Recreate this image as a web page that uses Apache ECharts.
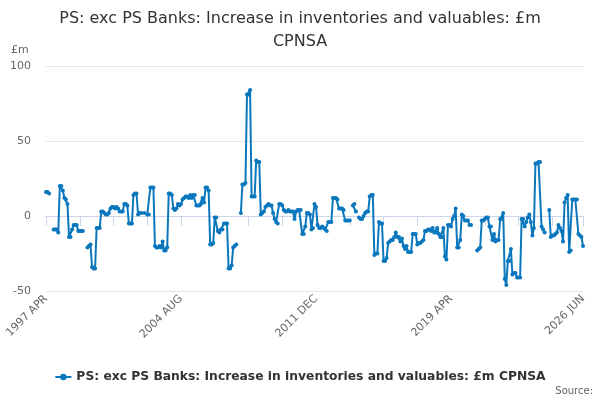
<!DOCTYPE html>
<html><head><meta charset="utf-8">
<script src="https://cdn.jsdelivr.net/npm/echarts@6/dist/echarts.min.js"></script>
<style>html,body{margin:0;padding:0;background:#fff}#c{width:600px;height:400px}</style>
</head><body><div id="c"></div>
<script>
const chartTitle = "PS: exc PS Banks: Increase in inventories and valuables: £m\nCPNSA";
const seriesName = "PS: exc PS Banks: Increase in inventories and valuables: £m CPNSA";
const startYear = 1997, startMonth = 3; // APR
const monthNames = ["JAN","FEB","MAR","APR","MAY","JUN","JUL","AUG","SEP","OCT","NOV","DEC"];
const yTicks = [-50, 0, 50, 100];
const values = [
 16, 16, 15, null, null, -9, -9, -9, -11, 20,
 20, 17, 12, 11, 8, -14, -14, -9, -6, -6,
 -6, -10, -10, -10, -10, null, null, -21, -20, -19,
 -34, -35, -35, -8, -8, -8, 3, 3, 2, 1,
 1, 2, 5, 6, 6, 5, 6, 5, 3, 3,
 3, 8, 8, 7, -5, -5, -5, 14, 15, 15,
 1, 2, 2, null, 2, null, 1, 1, 19, 19,
 19, -20, -21, -21, -20, -21, -17, -23, -23, -21,
 15, 15, 14, 5, 4, 5, 8, 7, 8, 11,
 12, 13, 13, 12, 14, 12, 14, 14, 7, 7,
 7, 8, 12, 9, 19, 19, 17, -19, -19, -18,
 -1, -1, -10, -11, -9, -9, -5, -5, -5, -35,
 -35, -33, -21, -20, -19, null, null, 2, 21, 21,
 22, 81, 81, 84, 13, 13, 13, 37, 36, 36,
 1, 2, 3, 6, 7, 8, 7, 7, 2, -2,
 -4, -5, 8, 8, 7, 4, 3, 3, 4, 3,
 3, 3, -2, 3, 4, 4, 4, -12, -12, -7,
 2, 2, 1, -9, -8, 8, 6, -6, -8, -8,
 -7, -8, -9, -10, -4, -4, -4, 12, 12, 12,
 11, 5, 5, 5, 4, -3, -3, -3, -3, null,
 7, 8, 3, null, -1, -2, -2, 0, 2, 3,
 3, 13, 14, 14, -26, -25, -25, -4, -5, -5,
 -30, -30, -28, -18, -17, -16, -16, -14, -11, -14,
 -14, -17, -15, -20, -22, -20, -24, -24, -24, -12,
 -12, -12, -19, -18, -18, -17, -16, -10, -10, -9,
 -9, -10, -8, -11, -11, -8, -12, -14, -14, -8,
 -27, -29, -6, -6, -7, -2, 0, 5, -21, -21,
 -16, 1, 0, -3, -3, -3, -6, -6, null, null,
 null, -23, -22, -21, -3, -3, -2, -1, -1, -7,
 -7, -16, -12, -17, -16, -16, -2, -2, 2, -42,
 -46, -30, -30, -22, -39, -38, -38, -41, -41, -41,
 -2, -2, -7, -4, -1, 1, -4, -13, -8, 35,
 35, 36, 36, -7, -9, -11, null, null, 4, -14,
 -13, -13, -12, -11, -6, -8, -10, -17, 9, 12,
 14, -24, -23, 11, 11, 11, 11, -12, -13, -14,
 -20
];
const categories = values.map((v, i) => {
  const m = startMonth + i;
  return (startYear + Math.floor(m / 12)) + " " + monthNames[m % 12];
});
const lastIdx = categories.length - 1;

const chart = echarts.init(document.getElementById('c'));
chart.setOption({
  animation: false,
  textStyle: {fontFamily: 'DejaVu Sans'},
  title: {
    text: chartTitle, left: 'center', top: 2,
    textStyle: {fontSize: 16, fontWeight: 'normal', color: '#333', lineHeight: 23, fontFamily: 'DejaVu Sans'}
  },
  graphic: [
    {type: 'text', left: 11, top: 45, style: {text: '£m', fontSize: 11, fill: '#666', fontFamily: 'DejaVu Sans'}},
    {type: 'text', right: 7, top: 386, style: {text: 'Source:', fontSize: 10, fill: '#666', fontFamily: 'DejaVu Sans'}}
  ],
  grid: {left: 46, right: 17, top: 66, bottom: 109, containLabel: false},
  legend: {
    top: 366, left: 'center', itemWidth: 16, itemHeight: 8, itemGap: 10,
    textStyle: {fontSize: 12.3, fontWeight: 'bold', color: '#333', fontFamily: 'DejaVu Sans'}
  },
  xAxis: {
    type: 'category', data: categories, boundaryGap: false,
    axisLine: {lineStyle: {color: '#ccd6eb'}},
    axisTick: {show: true, length: 10, lineStyle: {color: '#ccd6eb'},
      interval: (i) => i % 22 === 0 || i === lastIdx},
    axisLabel: {rotate: 45, color: '#666', fontSize: 11, margin: 6,
      interval: (i) => i % 88 === 0 || i === lastIdx},
    splitLine: {show: false}
  },
  yAxis: {
    type: 'value', min: yTicks[0], max: yTicks[yTicks.length - 1], interval: 50,
    axisLine: {show: false}, axisTick: {show: false},
    axisLabel: {color: '#666', fontSize: 11, margin: 15},
    splitLine: {lineStyle: {color: '#e6e6e6'}}
  },
  series: [{
    name: seriesName, type: 'line', data: values,
    connectNulls: false, showAllSymbol: true,
    symbol: 'circle', symbolSize: 4,
    itemStyle: {color: '#0a77bd'},
    lineStyle: {width: 2, color: '#0a77bd'}
  }]
});
</script></body></html>
